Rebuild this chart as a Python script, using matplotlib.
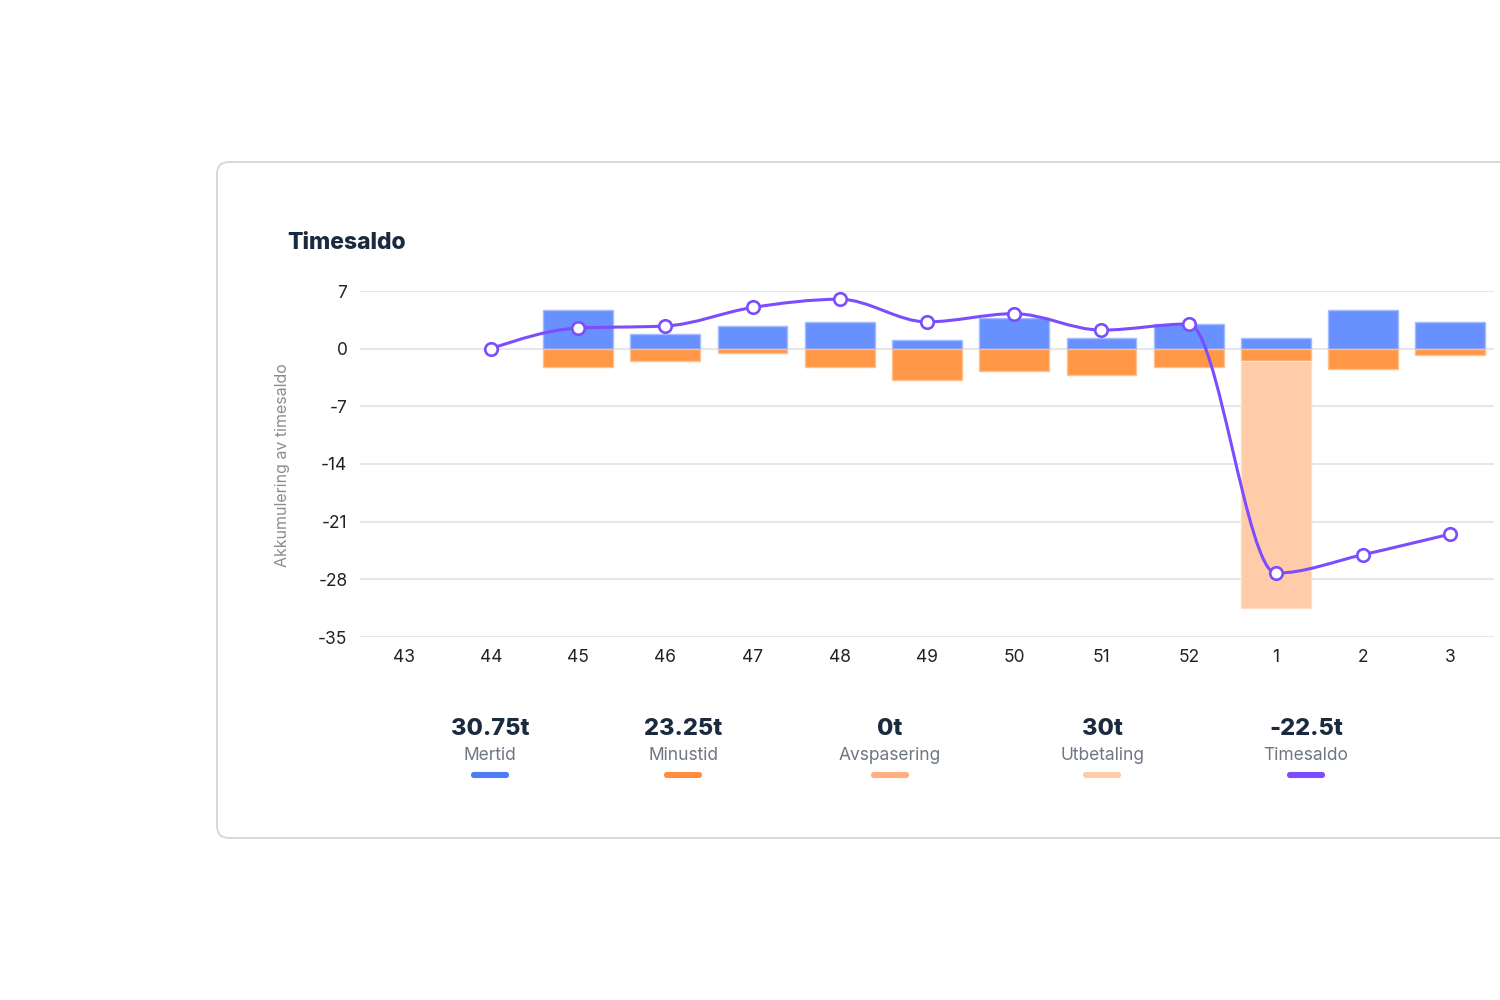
import numpy as np
import matplotlib.pyplot as plt
from matplotlib.patches import FancyBboxPatch
from matplotlib.path import Path
from matplotlib.patches import PathPatch
from matplotlib.transforms import IdentityTransform

plt.rcParams['font.family'] = ['Inter', 'DejaVu Sans']

# uker og verdier (timer)
weeks = ['43', '44', '45', '46', '47', '48', '49', '50', '51', '52', '1', '2', '3']
mertid = [None, None, 4.75, 1.75, 2.75, 3.25, 1.0, 3.75, 1.25, 3.0, 1.25, 4.75, 3.25]
minustid = [None, None, -2.25, -1.5, -0.5, -2.25, -3.75, -2.75, -3.25, -2.25, -1.5, -2.5, -0.75]
utbetaling = [None, None, 0, 0, 0, 0, 0, 0, 0, 0, -30.0, 0, 0]
timesaldo = [None, 0.0, 2.5, 2.75, 5.0, 6.0, 3.25, 4.25, 2.25, 3.0, -27.25, -25.0, -22.5]

summary_values = ['30.75t', '23.25t', '0t', '30t', '-22.5t']
summary_labels = ['Mertid', 'Minustid', 'Avspasering', 'Utbetaling', 'Timesaldo']
summary_colors = ['#4D7CF7', '#FF8F3F', '#FFAE7D', '#FFCBA8', '#7C4DFF']

y_ticks = [7, 0, -7, -14, -21, -28, -35]


def monotone_path(xs, ys):
    # monotone kubisk kurve (som d3 curveMonotoneX)
    xs = np.asarray(xs, float)
    ys = np.asarray(ys, float)
    n = len(xs)
    h = np.diff(xs)
    s = np.diff(ys) / h
    t = np.zeros(n)
    for i in range(1, n - 1):
        p = (s[i - 1] * h[i] + s[i] * h[i - 1]) / (h[i - 1] + h[i])
        t[i] = (np.sign(s[i - 1]) + np.sign(s[i])) * min(abs(s[i - 1]), abs(s[i]), 0.5 * abs(p))
    t[0] = (3 * s[0] - t[1]) / 2
    t[-1] = (3 * s[-1] - t[-2]) / 2
    verts = [(xs[0], ys[0])]
    codes = [Path.MOVETO]
    for i in range(n - 1):
        dx = h[i] / 3
        verts += [(xs[i] + dx, ys[i] + dx * t[i]),
                  (xs[i + 1] - dx, ys[i + 1] - dx * t[i + 1]),
                  (xs[i + 1], ys[i + 1])]
        codes += [Path.CURVE4] * 3
    return Path(verts, codes)


fig = plt.figure(figsize=(15, 10), dpi=100)

# kort med avrundede hjorner
card = FancyBboxPatch((217, 162), 1400, 676, boxstyle='round,pad=0,rounding_size=12',
                      transform=IdentityTransform(), facecolor='white',
                      edgecolor='#D3D6DC', linewidth=1.3, zorder=-1)
fig.patches.append(card)

ax = fig.add_axes([0.24, 0.363, 0.756, 0.346])
ax.set_facecolor('none')
x = np.arange(len(weeks))
bw = 0.8

for i in range(len(weeks)):
    if mertid[i] is not None:
        ax.bar(x[i], mertid[i], width=bw, color='#6891FF', edgecolor='#A4BCFF', linewidth=1, zorder=2)
    if minustid[i] is not None:
        ax.bar(x[i], minustid[i], width=bw, color='#FF9747', edgecolor='#FFC08E', linewidth=1, zorder=2)
    if utbetaling[i]:
        ax.bar(x[i], utbetaling[i], width=bw, bottom=minustid[i], color='#FFCBA8',
               edgecolor='#FFDCC6', linewidth=1, zorder=2)

lx = [x[i] for i in range(len(weeks)) if timesaldo[i] is not None]
ly = [v for v in timesaldo if v is not None]
ax.add_patch(PathPatch(monotone_path(lx, ly), facecolor='none', edgecolor='#7C4DFF',
                       linewidth=2.2, zorder=3, capstyle='round'))
ax.plot(lx, ly, linestyle='none', marker='o', markersize=9, markerfacecolor='white',
        markeredgecolor='#7C4DFF', markeredgewidth=1.9, zorder=4)

ax.set_xlim(-0.5, 12.5)
ax.set_ylim(-35, 7)
ax.set_yticks(y_ticks)
ax.set_yticklabels([str(v) for v in y_ticks])
ax.set_xticks(x)
ax.set_xticklabels(weeks)
ax.tick_params(axis='both', length=0, labelsize=12.5, colors='#222222')
ax.tick_params(axis='x', pad=9)
ax.tick_params(axis='y', pad=9)
ax.grid(axis='y', color='#E4E5E9', linewidth=1.3, zorder=1)
ax.set_axisbelow(True)
for sp in ax.spines.values():
    sp.set_visible(False)

fig.text(282 / 1500, 1 - 465 / 1000, 'Akkumulering av timesaldo', rotation=90,
         ha='center', va='center', fontsize=11.5, color='#8C8C8C')
fig.text(287 / 1500, 1 - 243 / 1000, 'Timesaldo', ha='left', va='center',
         fontsize=16.5, fontweight=800, color='#1B2B3F')

# oppsummering under grafen
centers = [490, 683, 890, 1102, 1306]
for cx, val, lab, col in zip(centers, summary_values, summary_labels, summary_colors):
    fig.text(cx / 1500, 1 - 729 / 1000, val, ha='center', va='center',
             fontsize=17, fontweight=800, color='#1B2B3F')
    fig.text(cx / 1500, 1 - 756 / 1000, lab, ha='center', va='center',
             fontsize=12.5, color='#6F7784')
    sw = FancyBboxPatch((cx - 18, 1000 - 777), 36, 4, boxstyle='round,pad=0,rounding_size=2',
                        transform=IdentityTransform(), facecolor=col, edgecolor=col,
                        linewidth=1.5)
    fig.patches.append(sw)

fig.savefig('out.png', dpi=100, facecolor='white')
